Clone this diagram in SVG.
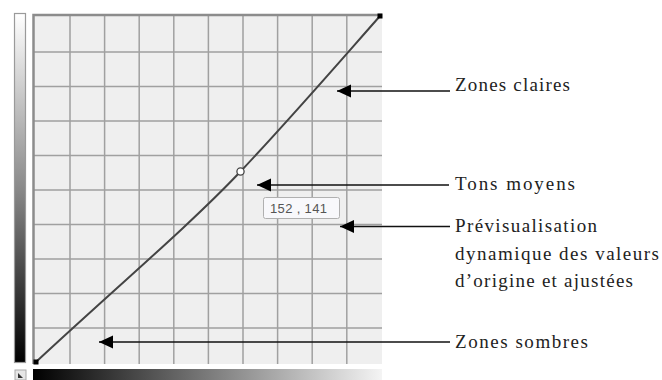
<svg xmlns="http://www.w3.org/2000/svg" width="662" height="380" viewBox="0 0 662 380">
<defs>
<linearGradient id="gv" x1="0" y1="0" x2="0" y2="1">
<stop offset="0" stop-color="#ffffff"/>
<stop offset="0.5" stop-color="#8a8a8a"/>
<stop offset="1" stop-color="#000000"/>
</linearGradient>
<linearGradient id="gh" x1="0" y1="0" x2="1" y2="0">
<stop offset="0" stop-color="#000000"/>
<stop offset="0.5" stop-color="#7a7a7a"/>
<stop offset="1" stop-color="#f4f4f4"/>
</linearGradient>
<marker id="ah" markerUnits="userSpaceOnUse" markerWidth="15" markerHeight="14" refX="14" refY="6.5" orient="auto">
<path d="M0,0 L14,6.5 L0,13 z" fill="#000"/>
</marker>
</defs>
<style>
.grid{stroke:#a0a0a0;stroke-width:1.5;fill:none}
.lbl{font-family:"Liberation Serif","Times New Roman",serif;font-size:19px;fill:#222}
.conn{stroke:#111;stroke-width:1.4;fill:none;marker-end:url(#ah)}
</style>
<rect width="662" height="380" fill="#fff"/>
<g id="chart">
<rect x="14.5" y="13.5" width="11" height="349" fill="url(#gv)" stroke="#9a9a9a" stroke-width="1.2"/>
<rect x="33" y="15" width="349" height="349" fill="#efefef"/>
<path class="grid" d="M70,15V364M104.6,15V364M139.2,15V364M173.8,15V364M208.4,15V364M243,15V364M277.6,15V364M312.2,15V364M346.8,15V364M33,52H382M33,86.5H382M33,121H382M33,155.5H382M33,190H382M33,224.5H382M33,259H382M33,293.5H382M33,328H382"/>
<path d="M33.5,364V15H382" fill="none" stroke="#8c8c8c" stroke-width="2.5"/>
<rect x="33" y="369" width="349" height="11" fill="url(#gh)"/>
<rect x="15" y="370" width="11" height="10" fill="#e6e6e6" stroke="#aaa" stroke-width="1"/>
<path d="M18,373 L23,378 L18,378 z" fill="#333"/>
<path d="M36,362 C110,293 190,225 240.5,171.5 S335,67 380,16" fill="none" stroke="#444" stroke-width="2"/>
<rect x="33.5" y="359.5" width="5" height="5" fill="#000"/>
<rect x="377.5" y="13.5" width="5" height="5" fill="#000"/>
<circle cx="240.5" cy="171.5" r="3.6" fill="#fff" stroke="#444" stroke-width="1.3"/>
</g>
<g id="tooltip">
<rect x="263.5" y="197.5" width="76" height="21" rx="2" fill="#f8f8fb" stroke="#b0b0b0" stroke-width="1"/>
<text x="270" y="212.5" font-family="Liberation Sans, Arial, sans-serif" font-size="13" fill="#555" textLength="57">152 , 141</text>
</g>
<g id="connectors">
<path class="conn" d="M450,91H337"/>
<path class="conn" d="M449,185H257"/>
<path class="conn" d="M450,226.5H340"/>
<path class="conn" d="M450,342H99"/>
</g>
<g id="zones-claires"><text class="lbl" x="455" y="91" textLength="115">Zones claires</text></g>
<g id="tons-moyens"><text class="lbl" x="455" y="190" textLength="120">Tons moyens</text></g>
<g id="previsualisation">
<text class="lbl" x="455" y="232" textLength="142">Prévisualisation</text>
<text class="lbl" x="455" y="260" textLength="204">dynamique des valeurs</text>
<text class="lbl" x="455" y="287" textLength="178">d’origine et ajustées</text>
</g>
<g id="zones-sombres"><text class="lbl" x="455" y="348" textLength="133">Zones sombres</text></g>
</svg>
